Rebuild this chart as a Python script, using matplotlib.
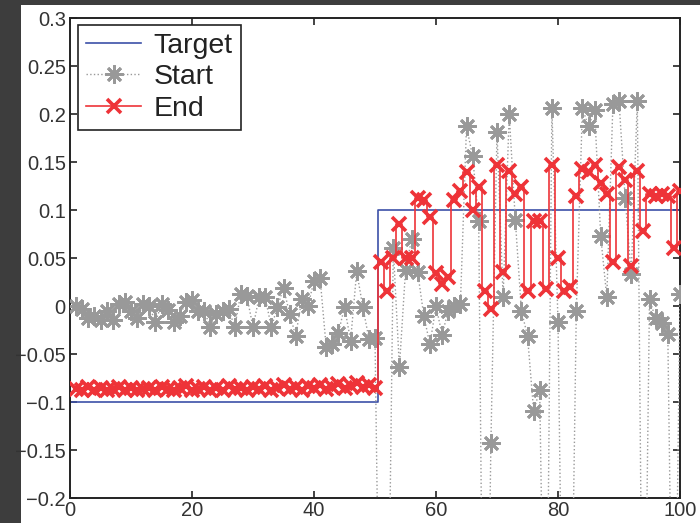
import matplotlib
matplotlib.use("Agg")
import matplotlib.pyplot as plt
from matplotlib.patches import Rectangle
import numpy as np

plt.rcParams['font.family'] = ['Liberation Sans', 'DejaVu Sans']

# Sample index
x = list(range(1, 101))

# Target profile: step from -0.1 to 0.1
target_x = [0, 50.5, 100]
target_y = [-0.1, 0.1, 0.1]

# Start estimate
start = [
    0.000, -0.003, -0.012, -0.010, -0.015, -0.005, -0.015, 0.002, 0.004, -0.005,
    -0.013, 0.002, 0.000, -0.017, 0.002, -0.004, -0.017, -0.010, 0.004, 0.006,
    -0.005, -0.005, -0.022, -0.008, -0.005, -0.003, -0.022, 0.013, 0.010, -0.022,
    0.009, 0.009, -0.022, -0.001, 0.019, -0.008, -0.031, 0.007, 0.000, 0.026,
    0.029, -0.043, -0.040, -0.028, -0.001, -0.036, 0.036, -0.001, -0.034, -0.033,
    -0.50, -0.45, 0.060, -0.064, 0.037, 0.070, 0.035, -0.010, -0.040, 0.000,
    -0.030, -0.005, 0.000, 0.002, 0.187, 0.156, 0.089, -0.60, -0.143, 0.181,
    0.009, 0.200, 0.090, -0.005, -0.031, -0.109, -0.088, -0.50, 0.206, -0.017,
    -0.50, -0.45, -0.005, 0.206, 0.187, 0.204, 0.073, 0.009, 0.210, 0.214,
    0.113, 0.033, 0.214, -0.50, 0.007, -0.013, -0.018, -0.029, -0.50, 0.013,
]

# End estimate
end = [
    -0.086, -0.088, -0.084, -0.087, -0.085, -0.088, -0.086, -0.084, -0.087, -0.085,
    -0.088, -0.086, -0.085, -0.087, -0.084, -0.086, -0.088, -0.085, -0.083, -0.087,
    -0.086, -0.084, -0.088, -0.085, -0.087, -0.083, -0.086, -0.085, -0.088, -0.084,
    -0.086, -0.083, -0.087, -0.085, -0.082, -0.086, -0.084, -0.087, -0.083, -0.085,
    -0.082, -0.086, -0.084, -0.081, -0.085, -0.083, -0.080, -0.084, -0.082, -0.085,
    0.046, 0.016, 0.050, 0.085, 0.050, 0.050, 0.112, 0.110, 0.093, 0.034,
    0.023, 0.030, 0.110, 0.120, 0.140, 0.100, 0.124, 0.016, -0.003, 0.147,
    0.035, 0.141, 0.117, 0.124, 0.016, 0.089, 0.089, 0.018, 0.147, 0.050,
    0.016, 0.020, 0.115, 0.143, 0.140, 0.147, 0.128, 0.117, 0.046, 0.145,
    0.131, 0.042, 0.141, 0.078, 0.117, 0.115, 0.117, 0.115, 0.060, 0.120,
]

xticks = [0, 20, 40, 60, 80, 100]
yticks = [-0.2, -0.15, -0.1, -0.05, 0, 0.05, 0.1, 0.15, 0.2, 0.25, 0.3]
ytick_labels = ['\u22120.2', '\u22120.15', '\u22120.1', '\u22120.05', '0',
                '0.05', '0.1', '0.15', '0.2', '0.25', '0.3']

fig = plt.figure(figsize=(7.0, 5.23), dpi=100)
fig.patch.set_facecolor('#3d3d3d')
fig.patches.append(Rectangle((21 / 700, 0), 679 / 700, 518 / 523,
                             transform=fig.transFigure, facecolor='white',
                             edgecolor='none', zorder=-10))

ax = fig.add_axes([70 / 700, 25 / 523, 610 / 700, 480 / 523])
ax.set_zorder(1)
ax.set_facecolor('white')

ax.plot(target_x, target_y, color='#3c50a8', lw=1.2, drawstyle='steps-post',
        label='Target', zorder=2)
ax.plot(x, start, color='#999999', ls=':', lw=1.0, marker=(8, 2, 0),
        markersize=13, markeredgewidth=2.0, label='Start', zorder=3)
ax.plot(x, end, color='#ee3338', lw=1.2, drawstyle='steps-mid', marker='x',
        markersize=9.5, markeredgewidth=2.6, label='End', zorder=4)

ax.set_xlim(0, 100)
ax.set_ylim(-0.2, 0.3)
ax.set_xticks(xticks)
ax.set_yticks(yticks)
ax.set_yticklabels(ytick_labels)
ax.tick_params(direction='in', length=5, width=1.2, top=True, right=True,
               labelsize=14.5, labelcolor='#333333', color='#222222', pad=3)
ax.tick_params(axis='x', pad=2.5)
for s in ax.spines.values():
    s.set_linewidth(1.4)
    s.set_color('#222222')

leg = ax.legend(loc='upper left', bbox_to_anchor=(0.013, 0.986),
                borderaxespad=0, fancybox=False, framealpha=1,
                edgecolor='#222222', fontsize=20.5, handlelength=1.9,
                handletextpad=0.45, labelspacing=0.18, borderpad=0.3)
leg.get_frame().set_linewidth(1.2)
for t in leg.get_texts():
    t.set_color('#222222')

fig.savefig('out.png', dpi=100, facecolor=fig.get_facecolor())
